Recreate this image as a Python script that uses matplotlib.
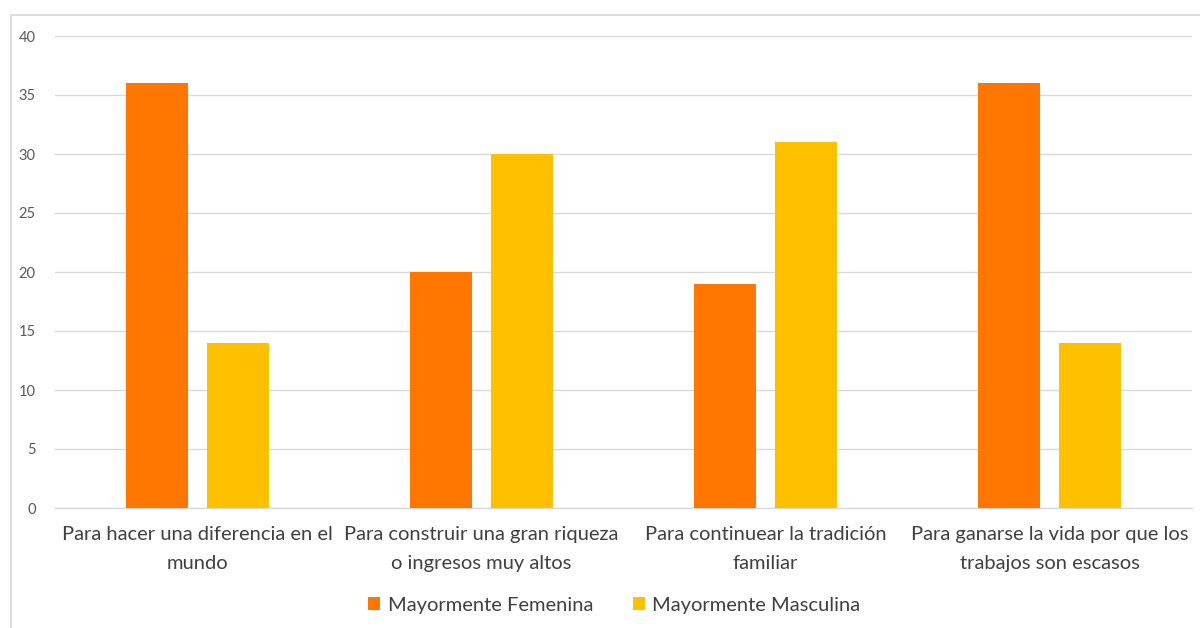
import matplotlib.pyplot as plt
import matplotlib.patches as mpatches
import numpy as np

categorias = ["Para hacer una diferencia en el\nmundo",
              "Para construir una gran riqueza\no ingresos muy altos",
              "Para continuear la tradición\nfamiliar",
              "Para ganarse la vida por que los\ntrabajos son escasos"]
femenina = [36, 20, 19, 36]
masculina = [14, 30, 31, 14]

naranja = '#FF7700'
amarillo = '#FFC000'
gris = '#595959'

plt.rcParams['font.family'] = ['Lato', 'DejaVu Sans']

fig = plt.figure(figsize=(12, 6.28), dpi=100)
# marco del grafico
fig.patches.append(mpatches.Rectangle((11/1200, -0.1), 1.2, 1 - 15/628 + 0.1,
                                      transform=fig.transFigure, fill=False,
                                      edgecolor='#d9d9d9', linewidth=1.2))

ax = fig.add_axes([55/1200, 1 - 508/628, 1137/1200, 472/628])
x = np.arange(len(categorias))
w = 0.218
off = 0.1426
ax.bar(x - off, femenina, w, color=naranja, label='Mayormente Femenina', zorder=3)
ax.bar(x + off, masculina, w, color=amarillo, label='Mayormente Masculina', zorder=3)

ax.set_xlim(-0.5, len(categorias) - 0.5)
ax.set_ylim(0, 40)
ax.set_yticks(range(0, 41, 5))
ax.yaxis.grid(True, color='#d9d9d9', linewidth=1)
ax.set_axisbelow(True)
for s in ['top', 'right', 'left']:
    ax.spines[s].set_visible(False)
ax.spines['bottom'].set_color('#d9d9d9')
ax.spines['bottom'].set_linewidth(1)
ax.tick_params(axis='both', length=0, colors=gris)
ax.tick_params(axis='y', labelsize=10.5, pad=14)
ax.set_xticks(x)
ax.set_xticklabels(categorias, fontsize=14.5, color='#404040', linespacing=1.85)
ax.tick_params(axis='x', pad=13)

fig.legend(loc='center', bbox_to_anchor=(0.512, 1 - 605/628), ncol=2, frameon=False,
           fontsize=14.5, handlelength=0.6, handleheight=0.6, handletextpad=0.35,
           columnspacing=2.0, labelcolor='#404040')

fig.savefig('out.png', dpi=100)
